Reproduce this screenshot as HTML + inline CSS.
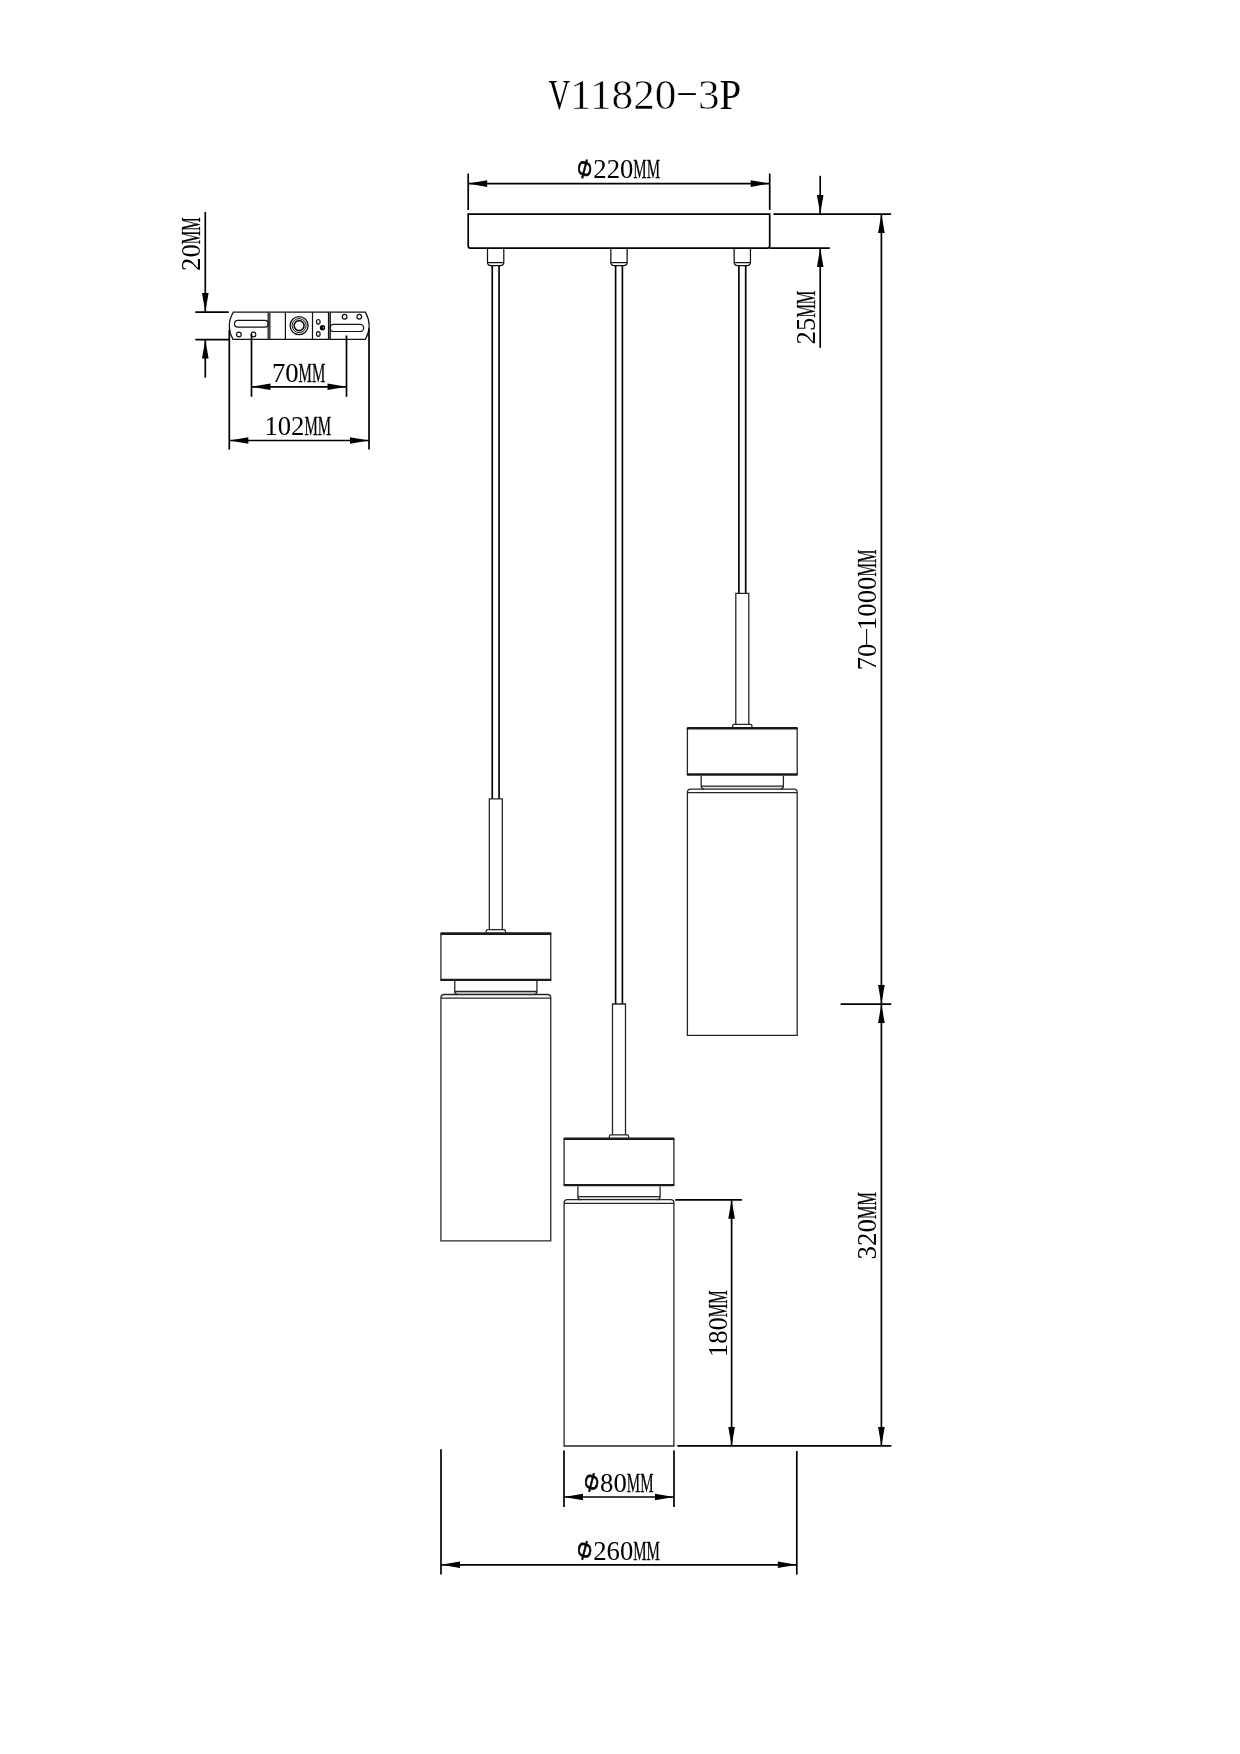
<!DOCTYPE html>
<html lang="en"><head><meta charset="utf-8"><title>V11820-3P</title>
<style>
html,body{margin:0;padding:0;background:#fff}
svg{display:block;will-change:transform}
.d{stroke:#000;stroke-width:1.7;fill:none}
.k{stroke:#000;stroke-width:1.7;fill:none}
.r{stroke:#000;stroke-width:1.65;fill:none}
.s{stroke:#111;stroke-width:1.25;fill:none}
.p{stroke:#262626;stroke-width:1.3;fill:none}
.pt{stroke:#1a1a1a;fill:none;stroke-linecap:round}
.pg{fill:#e2e2e2;stroke:none}
.p2{stroke:#111;stroke-width:1.2;fill:none}
.b{stroke:#111;stroke-width:1.2;fill:none}
.b2{stroke:#111;fill:none}
.bt{stroke:#444;stroke-width:3.2;fill:none}
.bt2{stroke:#999;stroke-width:1.8;fill:none}
.a{fill:#000;stroke:none}
.t{font-family:"Liberation Serif",serif;fill:#000}
.tt{stroke:#fff;stroke-width:.55}
.tt .w,.tt .h{stroke:none}
.w{stroke:#000;stroke-width:.3}
.phi{font-family:"Liberation Sans",sans-serif;font-style:italic;font-size:27.5px;fill:#000;stroke:#000;stroke-width:.7}
</style></head><body>
<svg width="1240" height="1754" viewBox="0 0 1240 1754">
<rect width="1240" height="1754" fill="#fff"/>
<text class="t tt" font-size="43.2" transform="translate(548.40 109.40)" x="0" y="0"><tspan class="w" textLength="21.60" lengthAdjust="spacingAndGlyphs">V</tspan>11820<tspan class="h" font-size="24.19" dx="-0.48" dy="-9.76" textLength="22.56" lengthAdjust="spacingAndGlyphs">-</tspan><tspan dx="-0.48" dy="9.76">3</tspan><tspan class="w" textLength="21.60" lengthAdjust="spacingAndGlyphs">P</tspan></text>
<path class="k" d="M468.2 214.1H769.7V246.1Q769.7 248.1 767.7 248.1H470.2Q468.2 248.1 468.2 246.1Z"/>
<path class="d" d="M468.20 173.50L468.20 210.00"/>
<path class="d" d="M769.70 173.50L769.70 210.00"/>
<path class="d" d="M468.20 183.60L769.70 183.60"/>
<polygon class="a" points="468.20,183.60 487.20,180.30 487.20,186.90"/>
<polygon class="a" points="769.70,183.60 750.70,180.30 750.70,186.90"/>
<text class="t" font-size="26.7" transform="translate(576.10 178.20)" x="0" y="0"><tspan class="phi" rotate="11" dy="-2.2" textLength="14.7" lengthAdjust="spacingAndGlyphs">Φ</tspan><tspan dx="2.5" dy="2.2" rotate="0">2</tspan>20<tspan class="w" textLength="13.35" lengthAdjust="spacingAndGlyphs">M</tspan><tspan class="w" textLength="13.35" lengthAdjust="spacingAndGlyphs">M</tspan></text>
<path class="d" d="M773.40 214.10L891.10 214.10"/>
<path class="d" d="M769.70 248.10L829.80 248.10"/>
<path class="d" d="M820.20 175.80L820.20 214.10"/>
<polygon class="a" points="820.20,214.10 816.90,195.10 823.50,195.10"/>
<path class="d" d="M820.20 248.10L820.20 347.80"/>
<polygon class="a" points="820.20,248.10 816.90,267.10 823.50,267.10"/>
<text class="t" font-size="26.8" transform="translate(815.00 344.40) rotate(-90)" x="0" y="0">25<tspan class="w" textLength="13.40" lengthAdjust="spacingAndGlyphs">M</tspan><tspan class="w" textLength="13.40" lengthAdjust="spacingAndGlyphs">M</tspan></text>
<path class="d" d="M881.40 214.10L881.40 1445.90"/>
<polygon class="a" points="881.40,214.10 878.10,233.10 884.70,233.10"/>
<polygon class="a" points="881.40,1004.10 878.10,985.10 884.70,985.10"/>
<polygon class="a" points="881.40,1004.10 878.10,1023.10 884.70,1023.10"/>
<polygon class="a" points="881.40,1445.90 878.10,1426.90 884.70,1426.90"/>
<path class="d" d="M840.60 1004.10L891.20 1004.10"/>
<text class="t" font-size="26.8" transform="translate(875.60 670.30) rotate(-90)" x="0" y="0">70<tspan class="h" font-size="15.01" dx="-3.45" dy="-6.06" textLength="20.29" lengthAdjust="spacingAndGlyphs">-</tspan><tspan dx="-3.45" dy="6.06">1</tspan>000<tspan class="w" textLength="13.40" lengthAdjust="spacingAndGlyphs">M</tspan><tspan class="w" textLength="13.40" lengthAdjust="spacingAndGlyphs">M</tspan></text>
<text class="t" font-size="26.9" transform="translate(875.50 1259.40) rotate(-90)" x="0" y="0">320<tspan class="w" textLength="13.45" lengthAdjust="spacingAndGlyphs">M</tspan><tspan class="w" textLength="13.45" lengthAdjust="spacingAndGlyphs">M</tspan></text>
<path class="s" d="M487.50 248.2V262.5Q487.50 265.5 491.15 265.5H500.15Q503.80 265.5 503.80 262.5V248.2"/>
<path class="s" d="M487.50 262.60L503.80 262.60"/>
<path class="r" d="M492.25 265.50L492.25 798.80"/>
<path class="r" d="M499.05 265.50L499.05 798.80"/>
<path class="p" d="M489.35 929.70V798.80H502.35V929.70"/>
<path class="p" d="M486.25 932.60V931.00Q486.25 929.70 487.55 929.70H504.15Q505.45 929.70 505.45 931.00V932.60"/>
<path class="p" d="M440.95 933.60V979.90M550.75 933.60V979.90"/>
<path class="pt" d="M441.55 933.60H550.15" stroke-width="2.6"/>
<path class="pt" d="M441.45 979.90H550.25" stroke-width="2.4"/>
<path class="pg" d="M454.75 991.50H536.95Q536.95 994.50 533.95 994.50H457.75Q454.75 994.50 454.75 991.50Z"/>
<path class="p" d="M454.75 981.00V991.50Q454.75 994.50 457.75 994.50M536.95 981.00V991.50Q536.95 994.50 533.95 994.50"/>
<path class="p" d="M454.75 991.50L536.95 991.50"/>
<path class="p" d="M440.95 1240.80V997.70Q440.95 994.50 444.15 994.50H547.55Q550.75 994.50 550.75 997.70V1240.80Z"/>
<path class="p" d="M440.95 998.10L550.75 998.10"/>
<path class="s" d="M610.85 248.2V262.5Q610.85 265.5 614.50 265.5H623.50Q627.15 265.5 627.15 262.5V248.2"/>
<path class="s" d="M610.85 262.60L627.15 262.60"/>
<path class="r" d="M615.60 265.50L615.60 1004.00"/>
<path class="r" d="M622.40 265.50L622.40 1004.00"/>
<path class="p" d="M612.50 1134.90V1004.00H625.50V1134.90"/>
<path class="p" d="M609.40 1137.80V1136.20Q609.40 1134.90 610.70 1134.90H627.30Q628.60 1134.90 628.60 1136.20V1137.80"/>
<path class="p" d="M564.10 1138.80V1185.10M673.90 1138.80V1185.10"/>
<path class="pt" d="M564.70 1138.80H673.30" stroke-width="2.6"/>
<path class="pt" d="M564.60 1185.10H673.40" stroke-width="2.4"/>
<path class="pg" d="M577.90 1196.70H660.10Q660.10 1199.70 657.10 1199.70H580.90Q577.90 1199.70 577.90 1196.70Z"/>
<path class="p" d="M577.90 1186.20V1196.70Q577.90 1199.70 580.90 1199.70M660.10 1186.20V1196.70Q660.10 1199.70 657.10 1199.70"/>
<path class="p" d="M577.90 1196.70L660.10 1196.70"/>
<path class="p" d="M564.10 1446.00V1202.90Q564.10 1199.70 567.30 1199.70H670.70Q673.90 1199.70 673.90 1202.90V1446.00Z"/>
<path class="p" d="M564.10 1203.30L673.90 1203.30"/>
<path class="s" d="M734.15 248.2V262.5Q734.15 265.5 737.80 265.5H746.80Q750.45 265.5 750.45 262.5V248.2"/>
<path class="s" d="M734.15 262.60L750.45 262.60"/>
<path class="r" d="M738.90 265.50L738.90 593.40"/>
<path class="r" d="M745.70 265.50L745.70 593.40"/>
<path class="p" d="M735.80 724.30V593.40H748.80V724.30"/>
<path class="p" d="M732.70 727.20V725.60Q732.70 724.30 734.00 724.30H750.60Q751.90 724.30 751.90 725.60V727.20"/>
<path class="p" d="M687.40 728.20V774.50M797.20 728.20V774.50"/>
<path class="pt" d="M688.00 728.20H796.60" stroke-width="2.6"/>
<path class="pt" d="M687.90 774.50H796.70" stroke-width="2.4"/>
<path class="pg" d="M701.20 786.10H783.40Q783.40 789.10 780.40 789.10H704.20Q701.20 789.10 701.20 786.10Z"/>
<path class="p" d="M701.20 775.60V786.10Q701.20 789.10 704.20 789.10M783.40 775.60V786.10Q783.40 789.10 780.40 789.10"/>
<path class="p" d="M701.20 786.10L783.40 786.10"/>
<path class="p" d="M687.40 1035.40V792.30Q687.40 789.10 690.60 789.10H794.00Q797.20 789.10 797.20 792.30V1035.40Z"/>
<path class="p" d="M687.40 792.70L797.20 792.70"/>
<path class="d" d="M675.20 1199.80L741.90 1199.80"/>
<path class="d" d="M677.30 1445.90L891.30 1445.90"/>
<path class="d" d="M731.60 1199.80L731.60 1445.90"/>
<polygon class="a" points="731.60,1199.80 728.30,1218.80 734.90,1218.80"/>
<polygon class="a" points="731.60,1445.90 728.30,1426.90 734.90,1426.90"/>
<text class="t" font-size="26.7" transform="translate(726.70 1357.20) rotate(-90)" x="0" y="0">180<tspan class="w" textLength="13.35" lengthAdjust="spacingAndGlyphs">M</tspan><tspan class="w" textLength="13.35" lengthAdjust="spacingAndGlyphs">M</tspan></text>
<path class="d" d="M564.00 1450.40L564.00 1507.00"/>
<path class="d" d="M674.00 1450.40L674.00 1507.00"/>
<path class="d" d="M564.00 1497.00L674.00 1497.00"/>
<polygon class="a" points="564.00,1497.00 583.00,1493.70 583.00,1500.30"/>
<polygon class="a" points="674.00,1497.00 655.00,1493.70 655.00,1500.30"/>
<text class="t" font-size="26.7" transform="translate(582.90 1491.80)" x="0" y="0"><tspan class="phi" rotate="11" dy="-2.2" textLength="14.7" lengthAdjust="spacingAndGlyphs">Φ</tspan><tspan dx="2.5" dy="2.2" rotate="0">8</tspan>0<tspan class="w" textLength="13.35" lengthAdjust="spacingAndGlyphs">M</tspan><tspan class="w" textLength="13.35" lengthAdjust="spacingAndGlyphs">M</tspan></text>
<path class="d" d="M441.00 1449.20L441.00 1574.50"/>
<path class="d" d="M796.80 1451.00L796.80 1574.60"/>
<path class="d" d="M441.00 1564.80L796.80 1564.80"/>
<polygon class="a" points="441.00,1564.80 460.00,1561.50 460.00,1568.10"/>
<polygon class="a" points="796.80,1564.80 777.80,1561.50 777.80,1568.10"/>
<text class="t" font-size="26.7" transform="translate(576.00 1559.60)" x="0" y="0"><tspan class="phi" rotate="11" dy="-2.2" textLength="14.7" lengthAdjust="spacingAndGlyphs">Φ</tspan><tspan dx="2.5" dy="2.2" rotate="0">2</tspan>60<tspan class="w" textLength="13.35" lengthAdjust="spacingAndGlyphs">M</tspan><tspan class="w" textLength="13.35" lengthAdjust="spacingAndGlyphs">M</tspan></text>
<path class="b" d="M233.3 312.1H365.4Q373 325.75 365.4 339.4H233.0Q225.4 325.75 233.3 312.1Z"/>
<path class="bt" d="M269 312.1V339.4"/><path class="bt2" d="M329.4 312.1V339.4"/><path class="b" d="M328.5 312.1V339.4M330.3 312.1V339.4"/>
<path class="b" d="M285.40 312.10L285.40 339.40"/>
<path class="b" d="M312.50 312.10L312.50 339.40"/>
<rect class="b" x="234.5" y="320.4" width="33.7" height="6.7" rx="3.35"/>
<rect class="b" x="330.2" y="324.4" width="33.5" height="7.1" rx="3.55"/>
<circle class="b" cx="238.9" cy="334.5" r="2.35" stroke-width="1.6"/>
<circle class="b" cx="253.5" cy="334.5" r="2.35" stroke-width="1.6"/>
<circle class="b" cx="344.6" cy="316.8" r="2.35" stroke-width="1.6"/>
<circle class="b" cx="359.3" cy="316.8" r="2.35" stroke-width="1.6"/>
<circle class="b2" cx="299.1" cy="325.6" r="9.0" stroke-width="1.3"/>
<circle class="b2" cx="299.1" cy="325.6" r="7.0" stroke-width="1.0"/>
<circle class="b2" cx="299.1" cy="325.6" r="5.0" stroke-width="1.6"/>
<ellipse class="b" cx="318.3" cy="321.8" rx="1.8" ry="2.3"/><ellipse class="b" cx="318.3" cy="334" rx="1.8" ry="2.3"/>
<circle class="a" cx="322.5" cy="327.7" r="2.7"/><circle cx="323.4" cy="327.8" r=".6" fill="#fff"/>
<path class="d" d="M195.30 312.10L228.70 312.10"/>
<path class="d" d="M195.30 339.60L229.30 339.60"/>
<path class="d" d="M205.30 212.00L205.30 312.10"/>
<polygon class="a" points="205.30,312.10 202.00,293.10 208.60,293.10"/>
<path class="d" d="M205.30 339.60L205.30 377.60"/>
<polygon class="a" points="205.30,339.60 202.00,358.60 208.60,358.60"/>
<text class="t" font-size="26.8" transform="translate(199.50 271.00) rotate(-90)" x="0" y="0">20<tspan class="w" textLength="13.40" lengthAdjust="spacingAndGlyphs">M</tspan><tspan class="w" textLength="13.40" lengthAdjust="spacingAndGlyphs">M</tspan></text>
<path class="d" d="M229.30 330.00L229.30 449.50"/>
<path class="d" d="M369.00 328.50L369.00 449.50"/>
<path class="d" d="M251.50 334.00L251.50 396.80"/>
<path class="d" d="M346.50 335.50L346.50 396.80"/>
<path class="d" d="M251.50 386.80L346.50 386.80"/>
<polygon class="a" points="251.50,386.80 270.50,383.50 270.50,390.10"/>
<polygon class="a" points="346.50,386.80 327.50,383.50 327.50,390.10"/>
<text class="t" font-size="26.7" transform="translate(271.90 381.90)" x="0" y="0">70<tspan class="w" textLength="13.35" lengthAdjust="spacingAndGlyphs">M</tspan><tspan class="w" textLength="13.35" lengthAdjust="spacingAndGlyphs">M</tspan></text>
<path class="d" d="M229.30 440.50L369.00 440.50"/>
<polygon class="a" points="229.30,440.50 248.30,437.20 248.30,443.80"/>
<polygon class="a" points="369.00,440.50 350.00,437.20 350.00,443.80"/>
<text class="t" font-size="26.7" transform="translate(264.40 434.90)" x="0" y="0">102<tspan class="w" textLength="13.35" lengthAdjust="spacingAndGlyphs">M</tspan><tspan class="w" textLength="13.35" lengthAdjust="spacingAndGlyphs">M</tspan></text>
</svg>
</body></html>
